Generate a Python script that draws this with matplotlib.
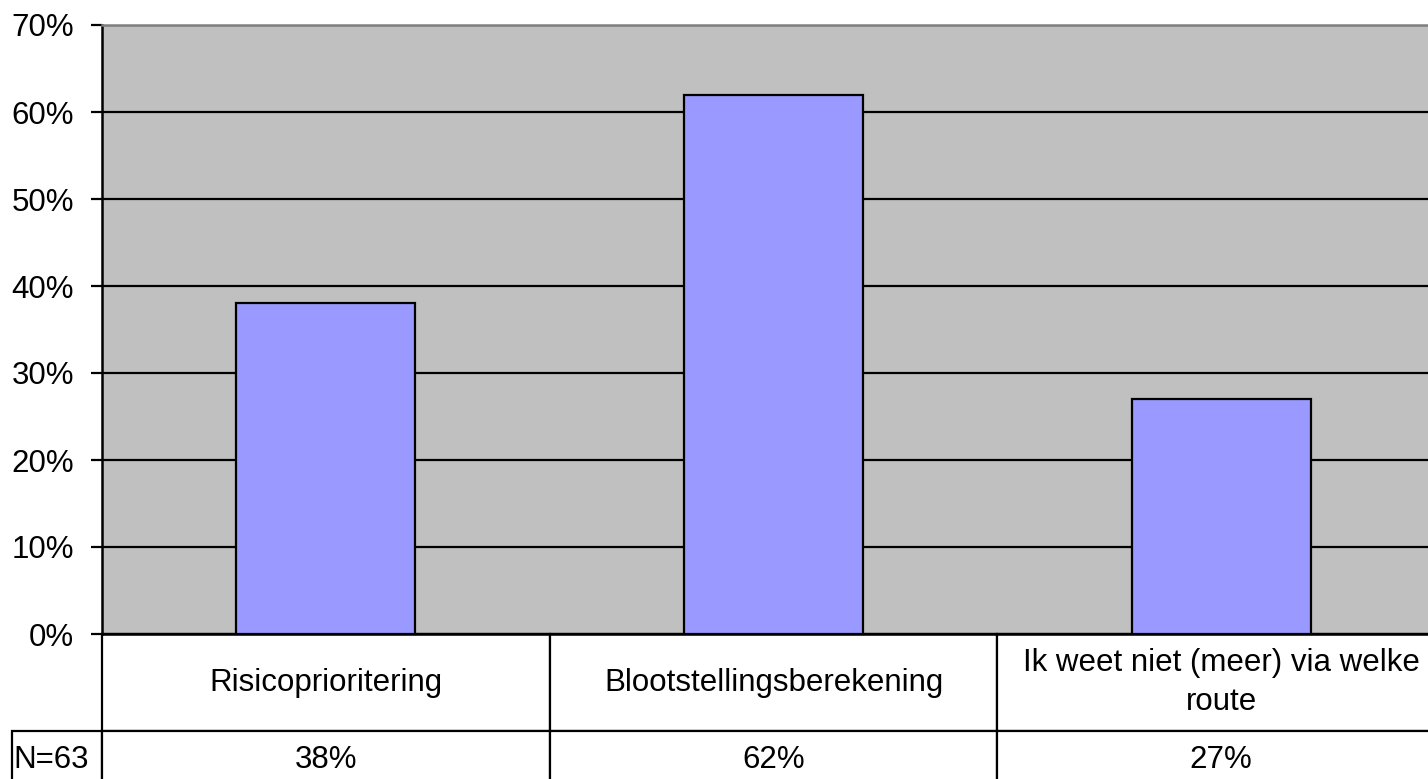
import matplotlib
matplotlib.use("Agg")
import matplotlib.pyplot as plt
import numpy as np

# data
categories = ["Risicoprioritering", "Blootstellingsberekening",
              "Ik weet niet (meer) via welke\nroute"]
values = [38, 62, 27]
n_label = "N=63"
yticks = [0, 10, 20, 30, 40, 50, 60, 70]


def main():
    plt.rcParams["font.family"] = ["Liberation Sans", "DejaVu Sans"]
    fs = 22.5

    fig = plt.figure(figsize=(14.28, 7.79), dpi=100)
    # plot area runs past the right edge of the picture, as in the original
    ax = fig.add_axes([102 / 1428, 1 - 634 / 779, 1343 / 1428, 609 / 779])
    ax.set_facecolor("#C0C0C0")

    x = np.arange(len(categories))
    ax.bar(x, values, width=0.4, color="#9999FF", edgecolor="black",
           linewidth=1.6, zorder=3)

    ax.set_xlim(-0.5, len(categories) - 0.5)
    ax.set_ylim(0, 70)
    ax.set_yticks(yticks)
    ax.set_yticklabels([f"{t}%" for t in yticks], fontsize=fs)
    ax.yaxis.grid(True, color="black", linewidth=1.6, zorder=1)
    ax.set_axisbelow(True)
    ax.tick_params(axis="y", direction="out", length=8, width=1.6, pad=12)
    ax.set_xticks([])

    ax.spines["left"].set_linewidth(1.8)
    ax.spines["bottom"].set_linewidth(1.8)
    ax.spines["top"].set_color("#808080")
    ax.spines["top"].set_linewidth(1.8)
    ax.spines["right"].set_visible(False)

    # data table under the plot
    h1 = 97 / 609
    h2 = 58 / 609
    cell_text = [[""] + categories,
                 [n_label] + [f"{v}%" for v in values]]
    first = 90 / 1343
    rest = 1 / len(categories)
    col_w = [first] + [rest] * len(categories)
    tbl = ax.table(cellText=cell_text, cellLoc="center", colWidths=col_w,
                   bbox=[-first, -(h1 + h2), 1 + first, h1 + h2])
    tbl.auto_set_font_size(False)
    tbl.set_fontsize(fs)
    for (r, c), cell in tbl.get_celld().items():
        cell.set_linewidth(1.6)
        cell.set_edgecolor("black")
        cell.set_facecolor("white")
        if r == 0:
            cell.get_text().set_linespacing(1.43)
        if r == 0 and c == 0:
            cell.visible_edges = ""
            cell.set_facecolor("none")
    tbl[1, 0].get_text().set_ha("left")
    tbl[1, 0].PAD = 0.02
    # row heights differ: first row for names, second for percentages
    fig.canvas.draw()
    for (r, c), cell in tbl.get_celld().items():
        if r == 0:
            cell.set_height(h1)
            cell.set_y(-h1)
        else:
            cell.set_height(h2)
            cell.set_y(-(h1 + h2))

    fig.savefig("out.png", dpi=100)


if __name__ == '__main__':
    main()
